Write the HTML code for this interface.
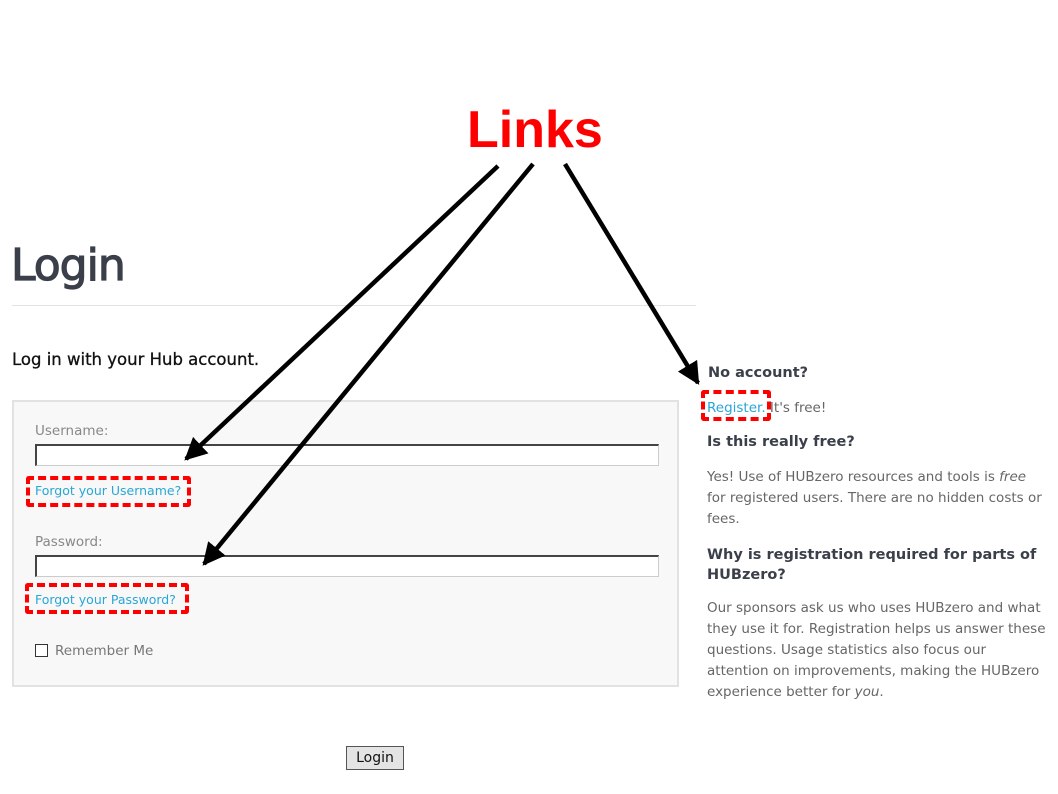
<!DOCTYPE html>
<html><head><style>
body{margin:0;width:1058px;height:794px;background:#fff;position:relative;overflow:hidden;font-family:"DejaVu Sans","Liberation Sans",sans-serif;}
.a{position:absolute;white-space:nowrap;}
.lbl{color:#888;font-size:13.5px;}
.inp{position:absolute;left:35px;width:624px;height:22px;background:#fff;border:1px solid #ccc;border-top:2px solid #444;border-left:2px solid #444;box-sizing:border-box;}
.lnk{color:#2aa6d6;font-size:12.5px;}
.dash{position:absolute;border:4px dashed #f00;border-radius:3px;box-sizing:border-box;}
.h{color:#3a3f4a;font-size:14.5px;font-weight:bold;}
.p{color:#666;font-size:13.5px;line-height:21px;}
</style></head><body>
<div class="a" style="left:11px;top:100px;left:467px;font:bold 52px 'Liberation Sans',sans-serif;color:#f00;">Links</div>
<div class="a" style="left:11px;top:240px;font-size:44px;color:#3a3f4a;-webkit-text-stroke:1.2px #3a3f4a;letter-spacing:-1px;">Login</div>
<div class="a" style="left:12px;top:305px;width:684px;height:1px;background:#e2e2e2;"></div>
<div class="a" style="left:12px;top:350px;font-size:16.5px;color:#111;-webkit-text-stroke:0.3px #111;">Log in with your Hub account.</div>
<div class="a" style="left:12px;top:400px;width:667px;height:287px;background:#f8f8f8;border:2px solid #e2e2e2;box-sizing:border-box;"></div>
<div class="a lbl" style="left:35px;top:423px;">Username:</div>
<div class="inp" style="top:444px;"></div>
<div class="a lnk" style="left:35px;top:483px;">Forgot your Username?</div>
<div class="dash" style="left:26px;top:476px;width:165px;height:31px;"></div>
<div class="a lbl" style="left:35px;top:534px;">Password:</div>
<div class="inp" style="top:555px;"></div>
<div class="a lnk" style="left:35px;top:592px;">Forgot your Password?</div>
<div class="dash" style="left:25px;top:583px;width:164px;height:31px;"></div>
<div class="a" style="left:35px;top:644px;width:11px;height:11px;border:1px solid #333;background:#fff;"></div>
<div class="a lbl" style="left:55px;top:643px;color:#777;">Remember Me</div>
<div class="a" style="left:346px;top:746px;width:58px;height:24px;background:#e4e4e4;border:1px solid #555;box-sizing:border-box;font-size:14px;text-align:center;line-height:22px;color:#111;">Login</div>
<div class="a h" style="left:708px;top:365px;">No account?</div>
<div class="a p" style="left:707px;top:398px;"><span style="color:#2aa6d6">Register.</span> It's free!</div>
<div class="dash" style="left:701px;top:390px;width:70px;height:31px;"></div>
<div class="a h" style="left:707px;top:434px;">Is this really free?</div>
<div class="a p" style="left:707px;top:467px;">Yes! Use of HUBzero resources and tools is <i>free</i><br>for registered users. There are no hidden costs or<br>fees.</div>
<div class="a h" style="left:707px;top:545px;line-height:20px;">Why is registration required for parts of<br>HUBzero?</div>
<div class="a p" style="left:707px;top:598px;">Our sponsors ask us who uses HUBzero and what<br>they use it for. Registration helps us answer these<br>questions. Usage statistics also focus our<br>attention on improvements, making the HUBzero<br>experience better for <i>you</i>.</div>
<svg class="a" style="left:0;top:0" width="1058" height="794">
<defs><marker id="m" markerWidth="5" markerHeight="5" refX="4.5" refY="2.5" orient="auto" markerUnits="strokeWidth"><path d="M0,0 L5,2.5 L0,5 z" fill="#000"/></marker></defs>
<g stroke="#000" stroke-width="4.5" fill="none" marker-end="url(#m)">
<line x1="498" y1="166" x2="186" y2="459"/>
<line x1="533" y1="164" x2="204" y2="564"/>
<line x1="565" y1="164" x2="698" y2="383"/>
</g></svg>
</body></html>
